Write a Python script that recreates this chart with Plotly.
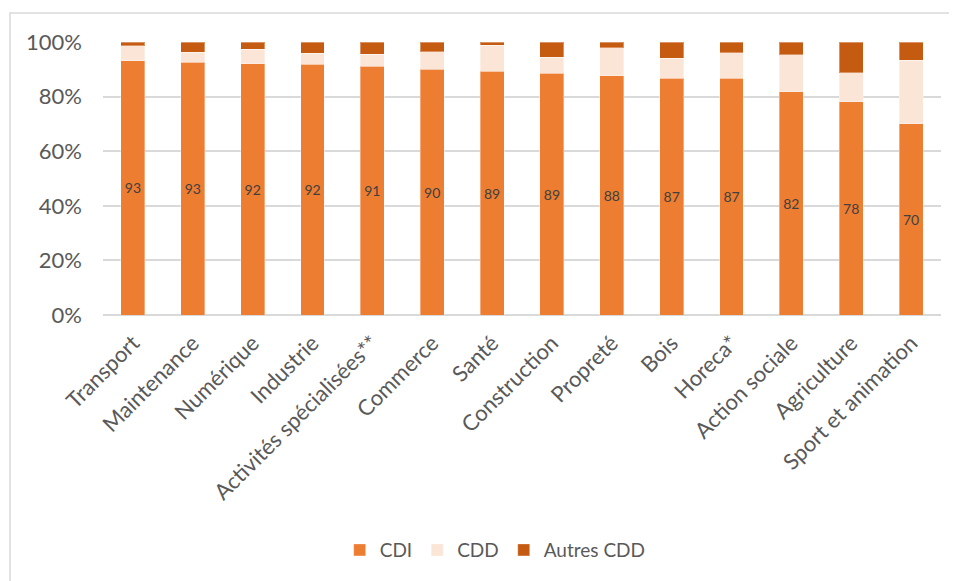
import plotly.graph_objects as go

# Categories and shares (%)
sectors = ['Transport', 'Maintenance', 'Numérique', 'Industrie', 'Activités spécialisées**',
           'Commerce', 'Santé', 'Construction', 'Propreté', 'Bois', 'Horeca*',
           'Action sociale', 'Agriculture', 'Sport et animation']
cdi = [93.2, 92.6, 92.1, 91.8, 91.2, 90.1, 89.2, 88.6, 87.6, 86.7, 86.7, 81.7, 78.1, 70.0]
cdd = [5.5, 3.6, 5.2, 4.0, 4.3, 6.4, 9.6, 5.8, 10.3, 7.3, 9.4, 13.7, 10.6, 23.3]
autres_cdd = [1.3, 3.8, 2.7, 4.2, 4.5, 3.5, 1.2, 5.6, 2.1, 6.0, 3.9, 4.6, 11.3, 6.7]

grey = '#595959'
font_family = 'Lato, Calibri, sans-serif'
edge = dict(color='rgba(255,255,255,0.35)', width=1)

fig = go.Figure()

fig.add_trace(go.Bar(
    x=sectors, y=cdi, name='CDI',
    marker=dict(color='#ED7D31', line=edge),
    text=[f'{v:.0f}' for v in cdi],
    textposition='inside', insidetextanchor='middle',
    textfont=dict(size=14, color='#404040', family=font_family),
    textangle=0,
))
fig.add_trace(go.Bar(
    x=sectors, y=cdd, name='CDD',
    marker=dict(color='#FBE5D6', line=edge),
))
fig.add_trace(go.Bar(
    x=sectors, y=autres_cdd, name='Autres CDD',
    marker=dict(color='#C55A11', line=edge),
))

# light frame around the chart, as in the original export
fig.add_shape(type='rect', xref='paper', yref='paper',
              x0=-0.111, x1=1.2, y0=-1.2, y1=1.106,
              line=dict(color='#D9D9D9', width=1.5), fillcolor='rgba(0,0,0,0)')

# page body keeps its default 8px margin, so the figure is 8px smaller
fig.update_layout(
    barmode='stack',
    bargap=0.6,
    width=949, height=573,
    margin=dict(l=95, r=16, t=34, b=266),
    paper_bgcolor='white', plot_bgcolor='white',
    font=dict(family=font_family, color=grey, size=20),
    showlegend=True,
    legend=dict(orientation='h', x=0.468, xanchor='center', y=-0.861, yanchor='middle',
                font=dict(size=19, color=grey), traceorder='normal'),
    uniformtext=dict(minsize=8, mode='show'),
)
fig.update_xaxes(
    tickangle=-45, tickfont=dict(size=22, color=grey),
    showline=False, showgrid=False, ticks='', ticklabelstandoff=10,
)
fig.update_yaxes(
    range=[0, 100], dtick=20, ticksuffix='%',
    tickfont=dict(size=22, color=grey),
    showgrid=True, gridcolor='#D9D9D9', gridwidth=1.5,
    zeroline=True, zerolinecolor='#D9D9D9', zerolinewidth=1.5,
    showline=False, ticks='', ticklabelstandoff=20,
)

fig.write_html('out.html')
